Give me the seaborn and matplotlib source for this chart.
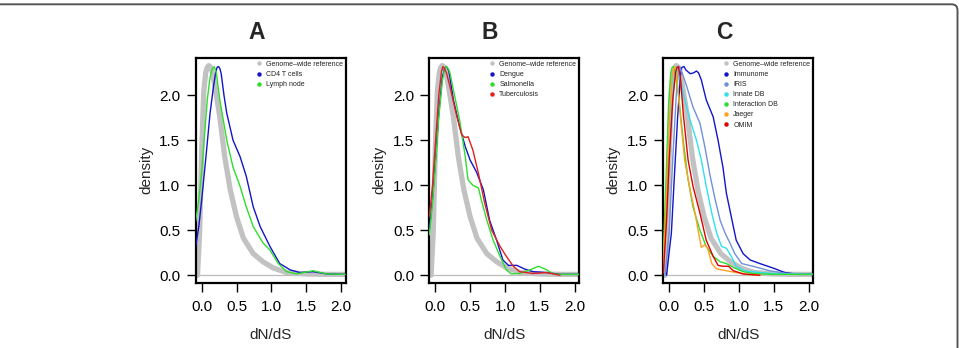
import matplotlib
matplotlib.use("Agg")
import matplotlib.pyplot as plt
import seaborn as sns
from matplotlib.lines import Line2D
from matplotlib.patches import FancyBboxPatch
from matplotlib.transforms import IdentityTransform

# ---- data (dN/dS vs density) ----
ref_x = [-0.06, -0.03, 0.0, 0.03, 0.06, 0.08, 0.10, 0.12, 0.14, 0.16, 0.19, 0.26, 0.33,
         0.41, 0.50, 0.60, 0.74, 0.88, 1.03, 1.22, 1.5, 1.8, 2.06]
ref_y = [0.0, 0.47, 1.39, 2.05, 2.26, 2.31, 2.33, 2.32, 2.29, 2.23, 2.10, 1.76, 1.32,
         0.95, 0.65, 0.41, 0.24, 0.15, 0.08, 0.03, 0.015, 0.01, 0.01]

# panel A
cd4_x = [-0.086, -0.04, 0.0, 0.04, 0.07, 0.12, 0.17, 0.20, 0.22, 0.24, 0.26, 0.28, 0.32,
         0.36, 0.45, 0.55, 0.64, 0.74, 0.84, 0.98, 1.12, 1.27, 1.41, 1.6, 1.79, 2.06]
cd4_y = [0.32, 0.55, 0.84, 1.15, 1.39, 1.80, 2.10, 2.25, 2.31, 2.32, 2.30, 2.24, 2.0,
         1.8, 1.5, 1.32, 1.1, 0.76, 0.54, 0.32, 0.13, 0.06, 0.03, 0.04, 0.015, 0.01]
lymph_x = [-0.086, -0.04, 0.0, 0.04, 0.08, 0.12, 0.15, 0.18, 0.21, 0.26, 0.36, 0.45, 0.55,
           0.64, 0.74, 0.88, 0.98, 1.1, 1.22, 1.36, 1.6, 1.79, 2.06]
lymph_y = [0.60, 0.85, 1.15, 1.55, 1.95, 2.2, 2.29, 2.32, 2.25, 1.95, 1.5, 1.2, 0.99,
           0.76, 0.54, 0.36, 0.28, 0.13, 0.04, 0.015, 0.05, 0.015, 0.01]

# panel B
dengue_x = [-0.086, -0.04, 0.0, 0.05, 0.1, 0.13, 0.16, 0.19, 0.21, 0.26, 0.35, 0.43, 0.5,
            0.59, 0.69, 0.78, 0.88, 0.97, 1.05, 1.17, 1.28, 1.4, 1.6, 1.79, 2.06]
dengue_y = [0.5, 0.85, 1.25, 1.8, 2.2, 2.29, 2.32, 2.28, 2.2, 1.95, 1.65, 1.43, 1.28,
            1.15, 0.95, 0.61, 0.39, 0.17, 0.11, 0.11, 0.07, 0.04, 0.03, 0.01, 0.01]
salm_x = [-0.086, -0.04, 0.0, 0.05, 0.1, 0.13, 0.16, 0.19, 0.21, 0.26, 0.35, 0.43, 0.47,
          0.54, 0.62, 0.66, 0.74, 0.83, 0.93, 1.02, 1.09, 1.21, 1.36, 1.48, 1.6, 1.69,
          1.79, 2.06]
salm_y = [0.45, 0.8, 1.2, 1.75, 2.15, 2.28, 2.32, 2.29, 2.25, 2.06, 1.72, 1.32, 1.06,
          1.0, 0.97, 0.84, 0.61, 0.39, 0.21, 0.06, 0.015, 0.02, 0.06, 0.1, 0.06, 0.015,
          0.01, 0.01]
tb_x = [-0.086, -0.04, 0.0, 0.05, 0.09, 0.11, 0.13, 0.16, 0.21, 0.31, 0.38, 0.43, 0.47,
        0.54, 0.62, 0.71, 0.81, 0.93, 1.02, 1.12, 1.21, 1.4, 1.6, 1.79]
tb_y = [0.65, 1.0, 1.45, 2.0, 2.27, 2.32, 2.30, 2.25, 2.1, 1.76, 1.56, 1.53, 1.54,
        1.39, 1.13, 0.8, 0.5, 0.32, 0.21, 0.1, 0.04, 0.02, 0.03, 0.0]

# panel C
immu_x = [-0.04, 0.03, 0.08, 0.12, 0.16, 0.18, 0.21, 0.24, 0.3, 0.35, 0.39, 0.42, 0.46,
          0.53, 0.63, 0.7, 0.77, 0.82, 0.89, 0.96, 1.06, 1.16, 1.3, 1.49, 1.66, 1.85, 2.06]
immu_y = [0.0, 0.47, 1.2, 1.76, 2.22, 2.31, 2.32, 2.28, 2.24, 2.25, 2.27, 2.25, 2.17,
          1.95, 1.76, 1.5, 1.2, 0.91, 0.65, 0.39, 0.24, 0.17, 0.13, 0.08, 0.03, 0.01, 0.01]
iris_x = [-0.06, 0.0, 0.05, 0.1, 0.13, 0.15, 0.18, 0.25, 0.34, 0.44, 0.51, 0.58, 0.65,
          0.73, 0.8, 0.87, 0.94, 1.04, 1.2, 1.44, 1.68, 2.06]
iris_y = [0.0, 0.5, 1.3, 2.0, 2.27, 2.32, 2.26, 2.1, 1.87, 1.69, 1.43, 1.13, 0.87,
          0.61, 0.47, 0.36, 0.24, 0.13, 0.1, 0.05, 0.02, 0.01]
innate_x = [-0.086, -0.03, 0.03, 0.07, 0.09, 0.11, 0.14, 0.2, 0.3, 0.39, 0.46, 0.53, 0.61,
            0.68, 0.75, 0.82, 0.89, 0.96, 1.08, 1.3, 1.59, 2.06]
innate_y = [0.1, 0.8, 1.8, 2.2, 2.29, 2.32, 2.25, 2.02, 1.72, 1.5, 1.28, 0.99, 0.69,
            0.47, 0.32, 0.3, 0.21, 0.1, 0.05, 0.03, 0.015, 0.01]
interact_x = [-0.086, -0.05, -0.01, 0.02, 0.04, 0.06, 0.09, 0.13, 0.2, 0.27, 0.34, 0.44,
              0.53, 0.63, 0.73, 0.82, 0.94, 1.06, 1.2, 1.5, 2.06]
interact_y = [0.25, 1.0, 1.9, 2.24, 2.31, 2.32, 2.22, 2.02, 1.5, 1.06, 0.76, 0.5,
              0.32, 0.21, 0.15, 0.13, 0.08, 0.04, 0.02, 0.01, 0.01]
jaeger_x = [-0.086, -0.04, 0.0, 0.04, 0.06, 0.08, 0.11, 0.15, 0.22, 0.3, 0.37, 0.42, 0.46,
            0.51, 0.55, 0.61, 0.68, 0.82, 0.96, 1.11, 1.3]
jaeger_y = [0.1, 0.9, 1.7, 2.2, 2.29, 2.32, 2.2, 1.84, 1.28, 0.95, 0.69, 0.47, 0.31,
            0.34, 0.3, 0.13, 0.07, 0.05, 0.03, 0.01, 0.0]
omim_x = [-0.086, -0.04, 0.0, 0.05, 0.09, 0.11, 0.13, 0.16, 0.2, 0.27, 0.34, 0.44, 0.53,
          0.63, 0.7, 0.77, 0.85, 0.92, 1.06, 1.3]
omim_y = [0.02, 0.6, 1.3, 1.95, 2.25, 2.31, 2.32, 2.2, 1.8, 1.28, 0.99, 0.69, 0.39,
          0.21, 0.11, 0.1, 0.1, 0.05, 0.015, 0.0]

ref_label = "Genome\u2013wide reference"
ref_color = "#C2C2C2"

panels = [
    ("A", [("CD4 T cells", cd4_x, cd4_y, "#1414C8"),
           ("Lymph node", lymph_x, lymph_y, "#2EDD2E")]),
    ("B", [("Dengue", dengue_x, dengue_y, "#1414C8"),
           ("Salmonella", salm_x, salm_y, "#2EDD2E"),
           ("Tuberculosis", tb_x, tb_y, "#E02020")]),
    ("C", [("Immunome", immu_x, immu_y, "#1414C8"),
           ("IRIS", iris_x, iris_y, "#7090D8"),
           ("Innate DB", innate_x, innate_y, "#30E0F0"),
           ("Interaction DB", interact_x, interact_y, "#2EDD2E"),
           ("Jaeger", jaeger_x, jaeger_y, "#FFA020"),
           ("OMIM", omim_x, omim_y, "#E00000")]),
]

sns.set_style("ticks")
plt.rcParams['font.family'] = ['Liberation Sans', 'DejaVu Sans']

fig = plt.figure(figsize=(9.59, 3.48), dpi=100)
lefts = [195.7, 429.3, 663.3]

for (letter, series), left in zip(panels, lefts):
    ax = fig.add_axes([left / 959, 1 - 283 / 348, 150 / 959, 225.3 / 348])
    ax.axhline(0, color="#BBBBBB", lw=0.9, zorder=1)
    sns.lineplot(x=ref_x, y=ref_y, sort=False, estimator=None, color=ref_color,
                 lw=3.8, ax=ax, zorder=2)
    for name, xs, ys, col in series:
        sns.lineplot(x=xs, y=ys, sort=False, estimator=None, color=col, lw=1.0,
                     ax=ax, zorder=3)

    ax.set_xlim(-0.086, 2.067)
    ax.set_ylim(-0.086, 2.418)
    ax.set_xticks([0, 0.5, 1.0, 1.5, 2.0])
    ax.set_yticks([0, 0.5, 1.0, 1.5, 2.0])
    ax.set_xticklabels(["0.0", "0.5", "1.0", "1.5", "2.0"])
    ax.set_yticklabels(["0.0", "0.5", "1.0", "1.5", "2.0"])
    ax.tick_params(axis="both", labelsize=11, length=6.5, width=1.0, color="black",
                   labelcolor="black")
    ax.tick_params(axis="x", pad=5.5)
    ax.tick_params(axis="y", pad=4.5)
    for sp in ax.spines.values():
        sp.set_visible(True)
        sp.set_linewidth(1.6)
        sp.set_color("black")

    ax.set_xlabel("dN/dS", fontsize=11)
    ax.set_ylabel("density", fontsize=11)
    ax.xaxis.set_label_coords(0.5, -0.2)
    ax.yaxis.set_label_coords(-0.285, 0.5)

    ax.text(0.405, 1.114, letter, transform=ax.transAxes, ha="center", va="center",
            fontsize=16.5, fontweight="bold")

    handles = [Line2D([], [], ls="none", marker="o", ms=2.2, color=ref_color)]
    labels = [ref_label]
    for name, xs, ys, col in series:
        handles.append(Line2D([], [], ls="none", marker="o", ms=2.2, color=col))
        labels.append(name)
    leg = ax.legend(handles, labels, loc="upper right", frameon=False, fontsize=5,
                    handlelength=0.6, handletextpad=0.7, labelspacing=0.45,
                    borderaxespad=0.25, borderpad=0.2)
    for t in leg.get_texts():
        t.set_color("#222222")

# rounded outer frame (only top and right edges fall inside the image)
frame = FancyBboxPatch((-10, -20), 967.5, 363.7, boxstyle="round,pad=0,rounding_size=6",
                       transform=IdentityTransform(), fill=False, edgecolor="#555555",
                       lw=1.4)
fig.add_artist(frame)

fig.savefig("out.png", dpi=100)
